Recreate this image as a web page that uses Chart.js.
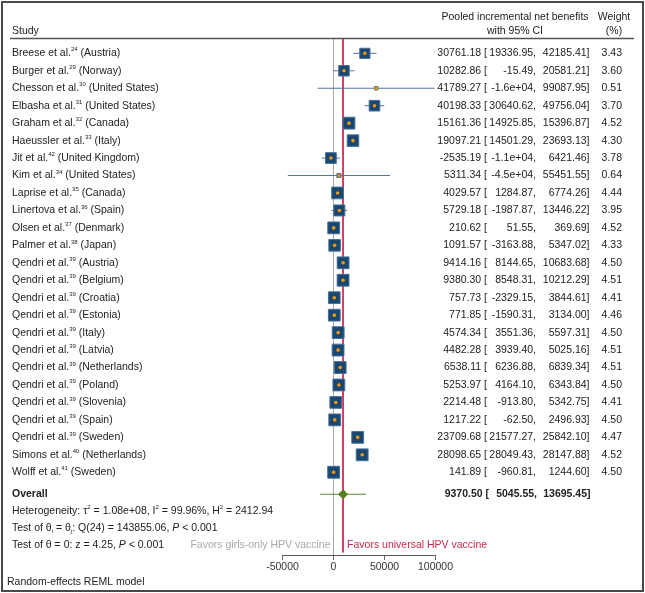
<!DOCTYPE html>
<html>
<head>
<meta charset="utf-8">
<script src="https://cdn.jsdelivr.net/npm/chart.js@4.4.1/dist/chart.umd.min.js"></script>
<style>
  html, body { margin: 0; padding: 0; background: #fff; }
  canvas { display: block; }
</style>
</head>
<body>
<canvas id="forest" width="645" height="593"></canvas>
<script>
// study rows
const authors = ['Breese', 'Burger', 'Chesson', 'Elbasha', 'Graham', 'Haeussler', 'Jit', 'Kim', 'Laprise', 'Linertova', 'Olsen', 'Palmer',
    'Qendri', 'Qendri', 'Qendri', 'Qendri', 'Qendri', 'Qendri', 'Qendri', 'Qendri', 'Qendri', 'Qendri', 'Qendri', 'Simons', 'Wolff'];
const refs = ['24', '29', '30', '31', '32', '33', '42', '34', '35', '36', '37', '38',
    '39', '39', '39', '39', '39', '39', '39', '39', '39', '39', '39', '40', '41'];
const countries = ['Austria', 'Norway', 'United States', 'United States', 'Canada', 'Italy', 'United Kingdom', 'United States', 'Canada', 'Spain', 'Denmark', 'Japan',
    'Austria', 'Belgium', 'Croatia', 'Estonia', 'Italy', 'Latvia', 'Netherlands', 'Poland', 'Slovenia', 'Spain', 'Sweden', 'Netherlands', 'Sweden'];
const estimates = [30761.18, 10282.86, 41789.27, 40198.33, 15161.36, 19097.21, -2535.19, 5311.34, 4029.57, 5729.18, 210.62, 1091.57,
    9414.16, 9380.30, 757.73, 771.85, 4574.34, 4482.28, 6538.11, 5253.97, 2214.48, 1217.22, 23709.68, 28098.65, 141.89];
const lower = [19336.95, -15.49, -15509.41, 30640.62, 14925.85, 14501.29, -11491.84, -44828.87, 1284.87, -1987.87, 51.55, -3163.88,
    8144.65, 8548.31, -2329.15, -1590.31, 3551.36, 3939.40, 6236.88, 4164.10, -913.80, -62.50, 21577.27, 28049.43, -960.81];
const upper = [42185.41, 20581.21, 99087.95, 49756.04, 15396.87, 23693.13, 6421.46, 55451.55, 6774.26, 13446.22, 369.69, 5347.02,
    10683.68, 10212.29, 3844.61, 3134.00, 5597.31, 5025.16, 6839.34, 6343.84, 5342.75, 2496.93, 25842.10, 28147.88, 1244.60];
const weights = [3.43, 3.60, 0.51, 3.70, 4.52, 4.30, 3.78, 0.64, 4.44, 3.95, 4.52, 4.33,
    4.50, 4.51, 4.41, 4.46, 4.50, 4.51, 4.51, 4.50, 4.41, 4.50, 4.47, 4.52, 4.50];

// overall (random effects)
const overallEst = 9370.50;
const overallCI = [5045.55, 13695.45];
const predInterval = [-13000, 32000];

const xTicks = [-50000, 0, 50000, 100000];

// row layout (in row units, 0 = first study)
const yMin = -0.85, yMax = 28.74;
const overallRow = 25.26;
const statRows = [26.2, 27.2, 28.2];
const modelRow = 30.28;

const FONT = '"Liberation Sans", Arial, sans-serif';
const TXT = '#222';

function fmt(v) {
    if (v <= -9999.995) return v.toExponential(1).replace(/e([+-])(\d)$/, 'e$10$2');
    return v.toFixed(2);
}

function drawRich(ctx, segs, x, y, align, bold, color) {
    const parts = segs.map(s => {
        const small = s.sup || s.sub;
        const font = (s.it ? 'italic ' : '') + (bold ? 'bold ' : '') + (small ? '6px ' : '10.5px ') + FONT;
        ctx.font = font;
        return { t: s.t, font, w: ctx.measureText(s.t).width, dy: s.sup ? -3.5 : s.sub ? 3 : 0 };
    });
    const total = parts.reduce((a, p) => a + p.w, 0);
    let cx = align === 'right' ? x - total : align === 'center' ? x - total / 2 : x;
    ctx.fillStyle = color || TXT;
    ctx.textAlign = 'left';
    ctx.textBaseline = 'middle';
    parts.forEach(p => { ctx.font = p.font; ctx.fillText(p.t, cx, y + p.dy); cx += p.w; });
}

function txt(ctx, t, x, y, align, bold, color) {
    drawRich(ctx, [{ t }], x, y, align, bold, color);
}

const ciLine = [];
estimates.forEach((e, i) => {
    ciLine.push({ x: lower[i], y: i }, { x: upper[i], y: i }, { x: null, y: null });
});
const boxes = estimates.map((e, i) => ({ x: e, y: i }));

const textPlugin = {
    id: 'forestText',
    beforeDraw(chart) {
        const ctx = chart.ctx;
        ctx.save();
        ctx.fillStyle = '#fff';
        ctx.fillRect(0, 0, chart.width, chart.height);
        ctx.restore();
    },
    afterDraw(chart) {
        const ctx = chart.ctx;
        const ys = chart.scales.y, xs = chart.scales.x;
        ctx.save();
        // header
        txt(ctx, 'Study', 12, 31.5, 'left');
        txt(ctx, 'Pooled incremental net benefits', 515, 17, 'center');
        txt(ctx, 'with 95% CI', 515, 31.5, 'center');
        txt(ctx, 'Weight', 614, 17, 'center');
        txt(ctx, '(%)', 614, 31.5, 'center');
        ctx.strokeStyle = '#555';
        ctx.lineWidth = 1.5;
        ctx.beginPath();
        ctx.moveTo(10, 38.5);
        ctx.lineTo(634, 38.5);
        ctx.stroke();

        // study rows
        estimates.forEach((e, i) => {
            const y = ys.getPixelForValue(i);
            drawRich(ctx, [{ t: authors[i] + ' et al.' }, { t: refs[i], sup: true }, { t: ' (' + countries[i] + ')' }], 12, y, 'left');
            txt(ctx, fmt(e) + ' [', 487, y, 'right');
            txt(ctx, fmt(lower[i]) + ',', 536, y, 'right');
            txt(ctx, fmt(upper[i]) + ']', 589.5, y, 'right');
            txt(ctx, weights[i].toFixed(2), 622, y, 'right');
        });

        // overall
        const yo = ys.getPixelForValue(overallRow);
        txt(ctx, 'Overall', 12, yo, 'left', true);
        txt(ctx, fmt(overallEst) + ' [', 489, yo, 'right', true);
        txt(ctx, fmt(overallCI[0]) + ',', 537, yo, 'right', true);
        txt(ctx, fmt(overallCI[1]) + ']', 590.5, yo, 'right', true);

        // statistics
        drawRich(ctx, [{ t: 'Heterogeneity: \u03c4' }, { t: '2', sup: true }, { t: ' = 1.08e+08, I' }, { t: '2', sup: true },
            { t: ' = 99.96%, H' }, { t: '2', sup: true }, { t: ' = 2412.94' }], 12, ys.getPixelForValue(statRows[0]), 'left');
        drawRich(ctx, [{ t: 'Test of \u03b8' }, { t: 'i', sub: true }, { t: ' = \u03b8' }, { t: 'j', sub: true },
            { t: ': Q(24) = 143855.06, ' }, { t: 'P', it: true }, { t: ' < 0.001' }], 12, ys.getPixelForValue(statRows[1]), 'left');
        drawRich(ctx, [{ t: 'Test of \u03b8 = 0: z = 4.25, ' }, { t: 'P', it: true }, { t: ' < 0.001' }], 12, ys.getPixelForValue(statRows[2]), 'left');

        const yf = ys.getPixelForValue(statRows[2]);
        txt(ctx, 'Favors girls-only HPV vaccine', xs.getPixelForValue(0) - 3, yf, 'right', false, '#a8a8a8');
        txt(ctx, 'Favors universal HPV vaccine', xs.getPixelForValue(overallEst) + 4, yf, 'left', false, '#d0284f');

        txt(ctx, 'Random-effects REML model', 7, ys.getPixelForValue(modelRow), 'left');

        // outer frame
        ctx.strokeStyle = '#4a4a4a';
        ctx.lineWidth = 2;
        ctx.strokeRect(2, 2, chart.width - 4, chart.height - 4);
        ctx.restore();
    }
};

new Chart(document.getElementById('forest').getContext('2d'), {
    type: 'scatter',
    data: {
        datasets: [
            {
                // zero reference line
                type: 'line',
                data: [{ x: 0, y: yMin }, { x: 0, y: yMax }],
                borderColor: '#a8a8a8',
                borderWidth: 1,
                pointRadius: 0,
                order: 6
            },
            {
                // overall effect line
                type: 'line',
                data: [{ x: overallEst, y: yMin }, { x: overallEst, y: yMax - 0.15 }],
                borderColor: '#d0284f',
                borderWidth: 1,
                pointRadius: 0,
                order: 5
            },
            {
                // confidence intervals
                type: 'line',
                data: ciLine,
                borderColor: '#4f74a0',
                borderWidth: 1,
                pointRadius: 0,
                spanGaps: false,
                order: 4
            },
            {
                // prediction interval
                type: 'line',
                data: [{ x: predInterval[0], y: overallRow }, { x: predInterval[1], y: overallRow }],
                borderColor: '#5e8a30',
                borderWidth: 1,
                pointRadius: 0,
                order: 4
            },
            {
                // weighted boxes
                data: boxes,
                pointStyle: 'rect',
                pointRadius: ctx => 5.9 * Math.sqrt(weights[ctx.dataIndex]) / 2 / Math.SQRT1_2 - 0.5,
                backgroundColor: '#1a476f',
                borderColor: '#46709a',
                borderWidth: 1,
                order: 2
            },
            {
                // point estimates
                data: boxes,
                pointStyle: 'circle',
                pointRadius: 1.8,
                backgroundColor: '#f0960f',
                borderWidth: 0,
                order: 1
            },
            {
                // overall diamond
                data: [{ x: overallEst, y: overallRow }],
                pointStyle: 'rectRot',
                pointRadius: 5,
                backgroundColor: '#55801f',
                borderColor: '#55801f',
                borderWidth: 0,
                order: 1
            }
        ]
    },
    options: {
        responsive: false,
        animation: false,
        devicePixelRatio: 1,
        layout: { padding: { left: 282.5, right: 209.5, top: 38.5, bottom: 0 } },
        plugins: { legend: { display: false }, tooltip: { enabled: false } },
        scales: {
            x: {
                type: 'linear',
                min: -50000,
                max: 100000,
                afterBuildTicks: scale => { scale.ticks = xTicks.map(v => ({ value: v })); },
                afterFit: scale => { scale.height = 38; },
                ticks: {
                    callback: v => String(v),
                    color: '#333',
                    padding: 1,
                    maxRotation: 0,
                    font: { family: FONT, size: 10.5 }
                },
                grid: { drawOnChartArea: false, drawTicks: true, tickLength: 5, color: '#666' },
                border: { display: true, color: '#555', width: 1 }
            },
            y: {
                type: 'linear',
                display: false,
                min: yMin,
                max: yMax,
                reverse: true
            }
        }
    },
    plugins: [textPlugin]
});
</script>
</body>
</html>
